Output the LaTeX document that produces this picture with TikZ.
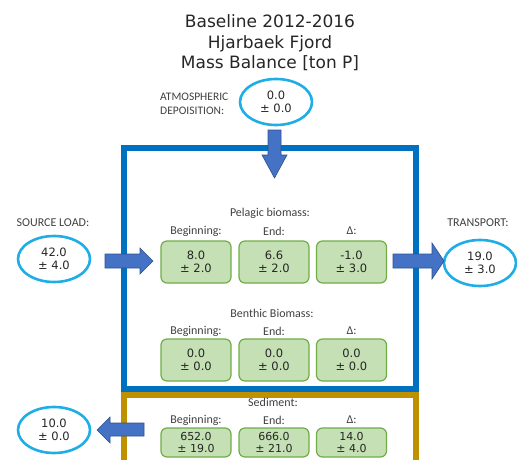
\documentclass[tikz,border=0pt]{standalone}
\usepackage{fontspec}
\setmainfont{DejaVu Sans}
\newfontfamily\lbl{Carlito}
\usetikzlibrary{shapes.geometric}
\definecolor{ellc}{HTML}{1FADE8}
\definecolor{arrf}{HTML}{4472C4}
\definecolor{arrd}{HTML}{2F528F}
\definecolor{frameblue}{HTML}{0070C0}
\definecolor{framegold}{HTML}{BF9000}
\definecolor{boxf}{HTML}{C5E0B4}
\definecolor{boxd}{HTML}{70AD47}
\definecolor{txtg}{HTML}{404040}
\begin{document}
\begin{tikzpicture}[x=1pt,y=-1pt,
  ell/.style={draw=ellc,line width=2.6pt,ellipse,minimum width=72pt,minimum height=46pt,inner sep=0pt,align=center,font=\fontsize{11.5}{13}\selectfont,text=black!85},
  val/.style={draw=boxd,fill=boxf,line width=1.2pt,rounded corners=6pt,minimum width=70pt,minimum height=42pt,inner sep=0pt,align=center,font=\fontsize{11.5}{13}\selectfont,text=black!85},
  sval/.style={val,minimum height=29pt,font=\fontsize{11}{11.5}\selectfont},
  lab/.style={font=\lbl\fontsize{12}{14}\selectfont,text=txtg,inner sep=0pt},
  blk/.style={fill=arrf,draw=arrd,line width=0.6pt}
]
\useasboundingbox (0,0) rectangle (517,460);
% frames
\draw[framegold,line width=6pt] (124,470) -- (124,394.5) -- (416,394.5) -- (416,470);
\draw[frameblue,line width=6pt] (124,389) rectangle (416,148);
% title
\node[align=center,font=\fontsize{17}{20.5}\selectfont,text=black!85] (title) at (270,43) {Baseline 2012-2016\\Hjarbaek Fjord\\Mass Balance [ton P]};
% atmospheric
\node[ell] (atm) at (276,102) {0.0\\± 0.0};
\node[lab,font=\lbl\fontsize{11.5}{14}\selectfont,align=left,anchor=west] (atmlab) at (160,104) {ATMOSPHERIC\\DEPOISITION:};
\draw[blk] (268,130) -- (281,130) -- (281,155) -- (287,155) -- (274.5,178) -- (262,155) -- (268,155) -- cycle;
% source
\node[lab] (srclab) at (53,223) {SOURCE LOAD:};
\node[ell] (src) at (54,259) {42.0\\± 4.0};
\draw[blk] (105,254) -- (140,254) -- (140,248) -- (153,261) -- (140,274) -- (140,268) -- (105,268) -- cycle;
% transport
\node[lab] (trlab) at (478,223) {TRANSPORT:};
\node[ell] (tr) at (480,263) {19.0\\± 3.0};
\draw[blk] (393,254) -- (432,254) -- (432,243) -- (444,261) -- (432,279) -- (432,268) -- (393,268) -- cycle;
% pelagic
\node[lab] (pel) at (270,213) {Pelagic biomass:};
\node[lab] (pelh1) at (196,231) {Beginning:};
\node[lab] (pelh2) at (274,231) {End:};
\node[lab] (pelh3) at (351.5,231) {Δ:};
\node[val] (pel1) at (196,262) {8.0\\± 2.0};
\node[val] (pel2) at (274,262) {6.6\\± 2.0};
\node[val] (pel3) at (351.5,262) {-1.0\\± 3.0};
% benthic
\node[lab] (ben) at (272,313) {Benthic Biomass:};
\node[lab] (benh1) at (196,331) {Beginning:};
\node[lab] (benh2) at (274,331) {End:};
\node[lab] (benh3) at (351.5,331) {Δ:};
\node[val] (ben1) at (196,360) {0.0\\± 0.0};
\node[val] (ben2) at (274,360) {0.0\\± 0.0};
\node[val] (ben3) at (351.5,360) {0.0\\± 0.0};
% sediment
\node[lab] (sed) at (273,402) {Sediment:};
\node[lab] (sedh1) at (196,420) {Beginning:};
\node[lab] (sedh2) at (274,420) {End:};
\node[lab] (sedh3) at (351.5,420) {Δ:};
\node[sval] (sed1) at (196,442.5) {652.0\\± 19.0};
\node[sval] (sed2) at (274,442.5) {666.0\\± 21.0};
\node[sval] (sed3) at (351.5,442.5) {14.0\\± 4.0};
% burial
\node[ell] (bur) at (54,430) {10.0\\± 0.0};
\draw[blk] (144,423) -- (110,423) -- (110,417) -- (97,430) -- (110,443) -- (110,436) -- (144,436) -- cycle;
\end{tikzpicture}
\end{document}
